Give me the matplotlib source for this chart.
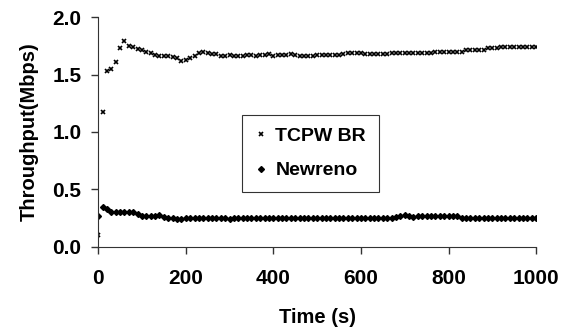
import numpy as np
import matplotlib
matplotlib.use("Agg")
import matplotlib.pyplot as plt

plt.rcParams['font.family'] = ['Liberation Sans', 'DejaVu Sans']
plt.rcParams['font.weight'] = 'bold'

# time in seconds, one sample every 10 s
t = np.arange(0, 1001, 10)

tcpw = [0.10, 1.17, 1.53, 1.55, 1.61, 1.73, 1.79, 1.75, 1.74, 1.72,
        1.71, 1.70, 1.69, 1.67, 1.66, 1.66, 1.66, 1.65, 1.64, 1.62,
        1.63, 1.64, 1.66, 1.69, 1.70, 1.69, 1.68, 1.68, 1.66, 1.66,
        1.67, 1.66, 1.66, 1.66, 1.67, 1.67, 1.66, 1.67, 1.67, 1.68,
        1.66, 1.67, 1.67, 1.67, 1.68, 1.67, 1.66, 1.66, 1.66, 1.66,
        1.67, 1.67, 1.67, 1.67, 1.67, 1.67, 1.68, 1.69, 1.69, 1.69,
        1.69, 1.68, 1.68, 1.68, 1.68, 1.68, 1.68, 1.69, 1.69, 1.69,
        1.69, 1.69, 1.69, 1.69, 1.69, 1.69, 1.69, 1.70, 1.70, 1.70,
        1.70, 1.70, 1.70, 1.70, 1.71, 1.71, 1.71, 1.71, 1.71, 1.73,
        1.73, 1.73, 1.74, 1.74, 1.74, 1.74, 1.74, 1.74, 1.74, 1.74,
        1.74]

newreno = [0.27, 0.35, 0.33, 0.30, 0.30, 0.30, 0.30, 0.30, 0.30, 0.29,
           0.27, 0.27, 0.27, 0.27, 0.28, 0.26, 0.25, 0.25, 0.24, 0.24,
           0.25, 0.25, 0.25, 0.25, 0.25, 0.25, 0.25, 0.25, 0.25, 0.25,
           0.24, 0.25, 0.25, 0.25, 0.25, 0.25, 0.25, 0.25, 0.25, 0.25,
           0.25, 0.25, 0.25, 0.25, 0.25, 0.25, 0.25, 0.25, 0.25, 0.25,
           0.25, 0.25, 0.25, 0.25, 0.25, 0.25, 0.25, 0.25, 0.25, 0.25,
           0.25, 0.25, 0.25, 0.25, 0.25, 0.25, 0.25, 0.25, 0.26, 0.27,
           0.28, 0.27, 0.26, 0.27, 0.27, 0.27, 0.27, 0.27, 0.27, 0.27,
           0.27, 0.27, 0.27, 0.25, 0.25, 0.25, 0.25, 0.25, 0.25, 0.25,
           0.25, 0.25, 0.25, 0.25, 0.25, 0.25, 0.25, 0.25, 0.25, 0.25,
           0.25]

fig = plt.figure(figsize=(5.74, 3.35), dpi=100)
ax = fig.add_axes([0.171, 0.263, 0.763, 0.686])

ax.plot(t, tcpw, 'x', color='black', markersize=3.5, markeredgewidth=1.2, label='TCPW BR')
ax.plot(t, newreno, 'D', color='black', markersize=3, label='Newreno')

ax.set_xlim(0, 1000)
ax.set_ylim(0, 2.0)
ax.set_xticks([0, 200, 400, 600, 800, 1000])
ax.set_yticks([0, 0.5, 1.0, 1.5, 2.0])
ax.set_yticklabels(['0.0', '0.5', '1.0', '1.5', '2.0'])
ax.tick_params(labelsize=15, length=5, width=1, color='#333333')
ax.tick_params(axis='x', pad=11)
ax.tick_params(axis='y', pad=7)
for s in ['top', 'right']:
    ax.spines[s].set_visible(False)
for s in ['left', 'bottom']:
    ax.spines[s].set_color('#333333')

ax.set_xlabel('Time (s)', fontsize=14.5, fontweight='bold', labelpad=14)
ax.set_ylabel('Throughput(Mbps)', fontsize=14.5, fontweight='bold', labelpad=10)

leg = ax.legend(loc='upper left', bbox_to_anchor=(0.329, 0.574), borderaxespad=0,
                fontsize=14, frameon=True, fancybox=False, edgecolor='black',
                handletextpad=0.45, handlelength=0.6, borderpad=0.65, labelspacing=0.85)
leg.get_frame().set_linewidth(0.8)

fig.savefig('out.png', dpi=100)
